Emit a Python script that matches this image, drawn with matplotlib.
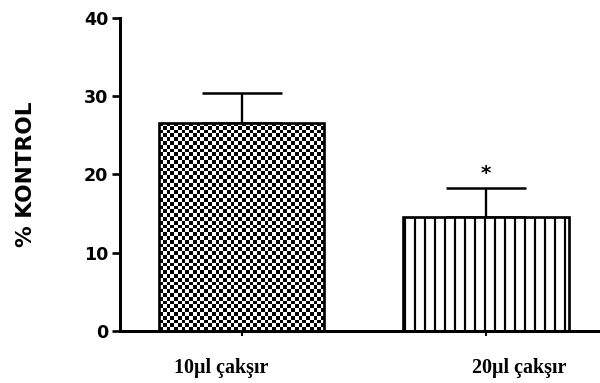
import matplotlib
matplotlib.use('Agg')
from matplotlib import pyplot as plt
from matplotlib import transforms
import numpy as np

# values
groups = ['10µl çakşır', '20µl çakşır']
means = [26.6, 14.6]
sem = [3.8, 3.7]
stars = ['', '*']
yticks = [0, 10, 20, 30, 40]

DPI = 120
plt.rcParams['hatch.linewidth'] = 1.3
plt.rcParams['hatch.color'] = 'black'

fig = plt.figure(figsize=(600 / DPI, 383 / DPI), dpi=DPI)
ax = fig.add_axes([0.2, 0.136, 0.8, 0.817])

x = np.arange(len(groups))
bars = ax.bar(x, means, width=0.68, color='white', edgecolor='black',
              linewidth=1.6, zorder=2)
bars[0].set_facecolor('none')
bars[1].set_hatch('||')

# upper-only error bars
ax.errorbar(x, means, yerr=[[0] * len(sem), sem], fmt='none', ecolor='black',
            elinewidth=1.4, capsize=24, capthick=1.5, zorder=1)

# checkerboard fill for the first bar, clipped to the bar
b = bars[0]
ncols = 44
cell_h = 0.48
nrows = int(round(b.get_height() / cell_h))
checker = (np.indices((nrows, ncols)).sum(axis=0) % 2).astype(float)
im = ax.imshow(checker, cmap='gray', vmin=0, vmax=1, aspect='auto',
               interpolation='antialiased',
               extent=[b.get_x(), b.get_x() + b.get_width(), 0, b.get_height()],
               zorder=1.5)
im.set_clip_path(b)
ax.set_xlim(-0.498, 1.469)
ax.set_ylim(0, 40)

for xi, m, e, s in zip(x, means, sem, stars):
    if s:
        ax.annotate(s, xy=(xi, m + e), xytext=(0, 3), textcoords='offset points',
                    ha='center', va='bottom', fontsize=12, fontweight='bold',
                    family='DejaVu Sans')

ax.spines['top'].set_visible(False)
ax.spines['right'].set_visible(False)
ax.spines['left'].set_linewidth(1.8)
ax.spines['bottom'].set_linewidth(1.8)

ax.set_yticks(yticks)
ax.set_yticklabels([str(t) for t in yticks], fontsize=10.5, fontweight='bold',
                   family='DejaVu Sans')
ax.tick_params(axis='y', direction='out', length=5, width=1.6, pad=2)

ax.set_xticks(x)
ax.set_xticklabels(groups, fontsize=12, fontweight='bold', family='Liberation Serif')
ax.tick_params(axis='x', direction='out', length=3, width=1.2, pad=13)
offsets = [-20, 34]
for lab, dx in zip(ax.get_xticklabels(), offsets):
    lab.set_transform(lab.get_transform() +
                      transforms.ScaledTranslation(dx / DPI, 0, fig.dpi_scale_trans))

ax.set_ylabel('% KONTROL', fontsize=13, fontweight='bold', family='DejaVu Sans',
              labelpad=29)

fig.savefig('out.png', dpi=DPI, facecolor='white')
